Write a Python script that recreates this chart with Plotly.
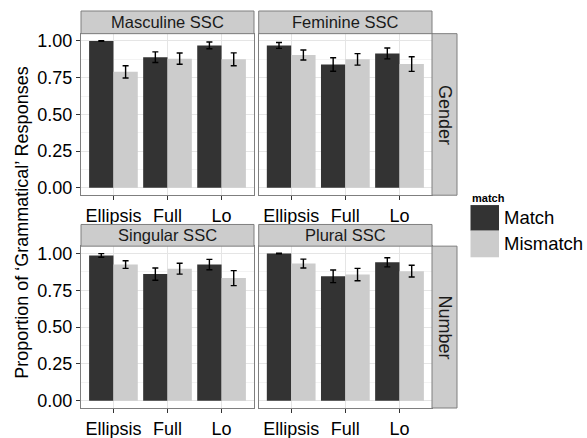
import plotly.graph_objects as go

# ---------------- data ----------------
categories = ["Ellipsis", "Full", "Lo"]
panel_titles = ["Masculine SSC", "Feminine SSC", "Singular SSC", "Plural SSC"]
row_labels = ["Gender", "Number"]
series_names = ["Match", "Mismatch"]

match_masculine = [1.00, 0.89, 0.97]
match_feminine = [0.97, 0.84, 0.915]
match_singular = [0.987, 0.86, 0.925]
match_plural = [1.00, 0.845, 0.94]

mismatch_masculine = [0.79, 0.88, 0.875]
mismatch_feminine = [0.905, 0.875, 0.843]
mismatch_singular = [0.925, 0.897, 0.833]
mismatch_plural = [0.932, 0.857, 0.88]

match_err_masculine = [0.002, 0.036, 0.023]
match_err_feminine = [0.02, 0.046, 0.037]
match_err_singular = [0.012, 0.042, 0.035]
match_err_plural = [0.002, 0.043, 0.031]

mismatch_err_masculine = [0.042, 0.038, 0.044]
mismatch_err_feminine = [0.034, 0.039, 0.05]
mismatch_err_singular = [0.026, 0.037, 0.051]
mismatch_err_plural = [0.03, 0.042, 0.04]

y_tickvals = [0, 0.25, 0.5, 0.75, 1.0]
y_ticktext = ["0.00", "0.25", "0.50", "0.75", "1.00"]

match_vals = [match_masculine, match_feminine, match_singular, match_plural]
mismatch_vals = [mismatch_masculine, mismatch_feminine, mismatch_singular, mismatch_plural]
match_errs = [match_err_masculine, match_err_feminine, match_err_singular, match_err_plural]
mismatch_errs = [mismatch_err_masculine, mismatch_err_feminine, mismatch_err_singular, mismatch_err_plural]

# ---------------- layout geometry (reference pixels) ----------------
W, H_REF = 587, 438
H = 448
S = H / H_REF
L, R, T, B = 81, 457, 9, 412
PW, PH = R - L, B - T

def px(x):
    return (x - L) / PW

def py(y):
    return (B - y) / PH

col_x = [(81, 254), (258.7, 432)]
row_panel_y = [(32, 196), (247.7, 412)]
row_strip_y = [(9, 32), (225.7, 247.7)]
rstrip_x = (432, 457)

DARK = "#333333"
LIGHT = "#CCCCCC"
BORDER = "#7F7F7F"
FONT = "Liberation Sans, Arial, Helvetica, sans-serif"

fig = go.Figure()

layout = dict(
    width=W, height=H,
    margin=dict(l=L, r=W - R, t=T * S, b=H - B * S, pad=0),
    paper_bgcolor="white", plot_bgcolor="white",
    barmode="group", bargap=0.1, bargroupgap=0,
    showlegend=False,
    font=dict(family=FONT, color="black"),
)

shapes = []
annotations = []

for i in range(4):
    r, c = divmod(i, 2)
    n = i + 1
    xs = "x" if n == 1 else f"x{n}"
    ys = "y" if n == 1 else f"y{n}"
    xk = "xaxis" if n == 1 else f"xaxis{n}"
    yk = "yaxis" if n == 1 else f"yaxis{n}"
    x0, x1 = col_x[c]
    y0, y1 = row_panel_y[r]
    layout[xk] = dict(
        domain=[px(x0), px(x1)], anchor=ys, type="category",
        categoryorder="array", categoryarray=categories,
        range=[-0.6, 2.6], showline=True, mirror=True, linecolor=BORDER, linewidth=1,
        ticks="outside", ticklen=4, tickcolor=DARK, tickwidth=1,
        tickfont=dict(size=18, color="black", family=FONT),
        showgrid=True, gridcolor="#E5E5E5", gridwidth=1, zeroline=False,
    )
    layout[yk] = dict(
        domain=[py(y1), py(y0)], anchor=xs,
        range=[-0.05, 1.05], tickvals=y_tickvals, ticktext=y_ticktext,
        showticklabels=(c == 0), ticks="outside" if c == 0 else "",
        ticklen=4, tickcolor=DARK, tickwidth=1,
        tickfont=dict(size=18, color="black", family=FONT),
        showline=True, mirror=True, linecolor=BORDER, linewidth=1,
        showgrid=True, gridcolor="#E5E5E5", gridwidth=1, zeroline=False,
        minor=dict(tickvals=[0.125, 0.375, 0.625, 0.875], showgrid=True,
                   gridcolor="#F3F3F3", gridwidth=1, ticks=""),
    )
    fig.add_trace(go.Bar(
        x=categories, y=match_vals[i], name=series_names[0],
        marker=dict(color=DARK, line=dict(width=0)), offsetgroup="match",
        error_y=dict(type="data", array=match_errs[i], color="black", thickness=1.4, width=3),
        xaxis=xs, yaxis=ys,
    ))
    fig.add_trace(go.Bar(
        x=categories, y=mismatch_vals[i], name=series_names[1],
        marker=dict(color=LIGHT, line=dict(width=0)), offsetgroup="mismatch",
        error_y=dict(type="data", array=mismatch_errs[i], color="black", thickness=1.4, width=3),
        xaxis=xs, yaxis=ys,
    ))
    # top strip
    sy0, sy1 = row_strip_y[r]
    shapes.append(dict(type="rect", xref="paper", yref="paper",
                       x0=px(x0), x1=px(x1), y0=py(sy1), y1=py(sy0),
                       fillcolor=LIGHT, line=dict(color=BORDER, width=1), layer="above"))
    annotations.append(dict(xref="paper", yref="paper", x=px((x0 + x1) / 2), y=py((sy0 + sy1) / 2),
                            text=panel_titles[i], showarrow=False, xanchor="center", yanchor="middle",
                            font=dict(size=16.5, color="#1A1A1A", family=FONT)))

# right strips
for r in range(2):
    y0, y1 = row_panel_y[r]
    shapes.append(dict(type="rect", xref="paper", yref="paper",
                       x0=px(rstrip_x[0]), x1=px(rstrip_x[1]), y0=py(y1), y1=py(y0),
                       fillcolor=LIGHT, line=dict(color=BORDER, width=1), layer="above"))
    annotations.append(dict(xref="paper", yref="paper", x=px(sum(rstrip_x) / 2), y=py((y0 + y1) / 2),
                            text=row_labels[r], showarrow=False, textangle=90,
                            xanchor="center", yanchor="middle",
                            font=dict(size=18, color="#1A1A1A", family=FONT)))

# y axis title
annotations.append(dict(xref="paper", yref="paper", x=px(22), y=py(224),
                        text="Proportion of \u2018Grammatical\u2019 Responses", showarrow=False,
                        textangle=-90, xanchor="center", yanchor="middle",
                        font=dict(size=18, color="black", family=FONT)))

# legend (drawn manually to match key size)
annotations.append(dict(xref="paper", yref="paper", x=px(470), y=py(198.5),
                        text="<b>match</b>", showarrow=False, xanchor="left", yanchor="middle",
                        font=dict(size=11, color="black", family=FONT)))
legend_colors = [DARK, LIGHT]
key_y = [(206, 232), (232, 259)]
for k in range(2):
    ky0, ky1 = key_y[k]
    shapes.append(dict(type="rect", xref="paper", yref="paper",
                       x0=px(470.5), x1=px(499), y0=py(ky1), y1=py(ky0),
                       fillcolor=legend_colors[k], line=dict(width=0), layer="above"))
    annotations.append(dict(xref="paper", yref="paper", x=px(502), y=py((ky0 + ky1) / 2),
                            text=series_names[k], showarrow=False, xanchor="left", yanchor="middle",
                            font=dict(size=18.5, color="black", family=FONT)))

layout["shapes"] = shapes
layout["annotations"] = annotations
fig.update_layout(**layout)

# remove the default page margin synchronously (before the page finishes loading)
sync_js = ("}); document.body.style.margin='0px'; "
           "document.documentElement.style.overflow='hidden'; (function(){")

fig.write_html(
    "out.html",
    config={"displayModeBar": False},
    post_script=sync_js,
)
